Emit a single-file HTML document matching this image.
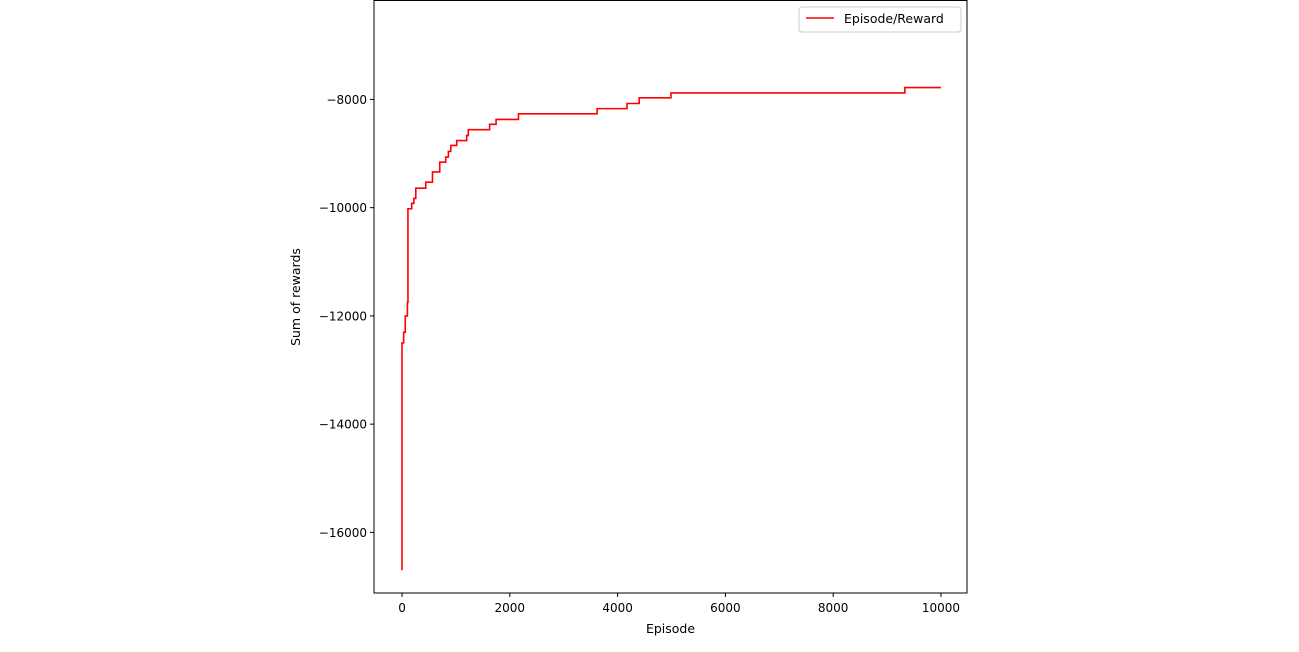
<!DOCTYPE html>
<html><head><meta charset="utf-8"><style>
body{margin:0;background:#fff;}
svg{display:block;font-family:"DejaVu Sans","Liberation Sans",sans-serif;}
</style></head><body>
<svg id="chart" width="1299" height="652">
</svg>
<script>
const episodes=[0,0,30,60,100,110,130,180,220,255,440,565,700,810,860,905,1015,1200,1230,1625,1745,2160,3620,4175,4400,4990,9330,10000];
const rewards=[-16700,-12500,-12300,-12000,-11750,-10020,-10020,-9920,-9830,-9640,-9530,-9340,-9160,-9065,-8960,-8850,-8760,-8665,-8560,-8460,-8370,-8265,-8170,-8075,-7970,-7880,-7780,-7780];
const xTicks=[0,2000,4000,6000,8000,10000];
const yTicks=[-16000,-14000,-12000,-10000,-8000];
const L=374,R=967,T=0.5,B=593;
const xMin=-520,xMax=10483,yMin=-17120,yMax=-6172;
const sx=v=>L+(v-xMin)/(xMax-xMin)*(R-L);
const sy=v=>B-(v-yMin)/(yMax-yMin)*(B-T);
const svg=document.getElementById('chart');
const NS='http://www.w3.org/2000/svg';
function mk(t,a){const e=document.createElementNS(NS,t);for(const k in a)e.setAttribute(k,a[k]);svg.appendChild(e);return e;}
// series (step-post)
let d='';
for(let i=0;i<episodes.length;i++){
  const x=sx(episodes[i]),y=sy(rewards[i]);
  if(i===0)d+='M'+x+' '+y;
  else{d+=' H'+x+' V'+y;}
}
const line=mk('path',{d:d,fill:'none',stroke:'#ff0000','stroke-width':1.6});


const frame=mk('rect',{x:L,y:T,width:R-L,height:B-T,fill:'none',stroke:'#000','stroke-width':1});


xTicks.forEach(v=>{
  const x=sx(v);
  const t=mk('line',{x1:x,x2:x,y1:B,y2:B+4,stroke:'#000'});
  
  
  const l=mk('text',{x:x,y:B+19,'font-size':12,'text-anchor':'middle'});
  l.textContent=v;
  
  
});
yTicks.forEach(v=>{
  const y=sy(v);
  const t=mk('line',{x1:L-4,x2:L,y1:y,y2:y,stroke:'#000'});
  
  
  const l=mk('text',{x:L-7,y:y+4.5,'font-size':12,'text-anchor':'end'});
  l.textContent='\u2212'+Math.abs(v);
  
  
});
const xt=mk('text',{x:(L+R)/2,y:633,'font-size':12.5,'text-anchor':'middle'});
xt.textContent='Episode';


const yt=mk('text',{x:300,y:297,'font-size':12.5,'text-anchor':'middle',transform:'rotate(-90 300 297)'});
yt.textContent='Sum of rewards';


const lg=mk('rect',{x:799,y:7,width:162,height:25,rx:3,fill:'#fff',stroke:'#ccc'});


const ll=mk('line',{x1:806,x2:834,y1:18,y2:18,stroke:'#ff0000','stroke-width':1.6});


const lt=mk('text',{x:844,y:23,'font-size':12.5});
lt.textContent='Episode/Reward';


</script>
</body></html>
